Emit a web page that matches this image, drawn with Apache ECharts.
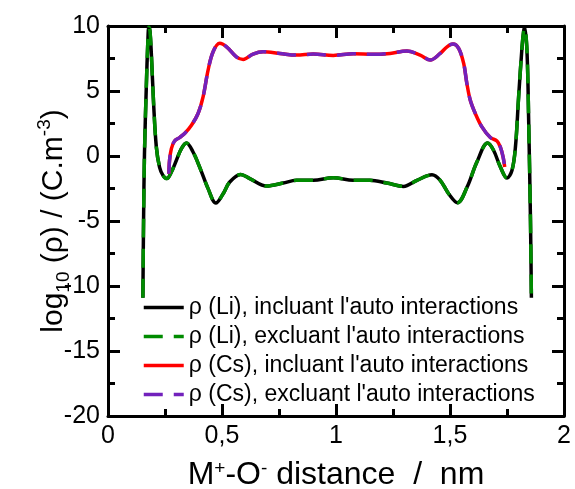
<!DOCTYPE html>
<html>
<head>
<meta charset="utf-8">
<script src="https://cdn.jsdelivr.net/npm/echarts@6/dist/echarts.min.js"></script>
<style>html,body{margin:0;padding:0;background:#fff;}#chart{width:575px;height:489px;}</style>
</head>
<body>
<div id="chart"></div>
<script>
// Distances (nm) and log10(rho) values
const liDist = [0.153, 0.156, 0.160, 0.168, 0.175, 0.179, 0.184, 0.190, 0.200, 0.212, 0.226, 0.241, 0.258, 0.278, 0.300, 0.322, 0.344, 0.373, 0.402, 0.439, 0.473, 0.505, 0.534, 0.582, 0.622, 0.695, 0.768, 0.827, 0.900, 0.988, 1.076, 1.149, 1.223, 1.296, 1.355, 1.421, 1.457, 1.494, 1.533, 1.575, 1.618, 1.665, 1.691, 1.721, 1.750, 1.772, 1.787, 1.801, 1.816, 1.823, 1.828, 1.838, 1.845, 1.853, 1.857];
const liLog  = [-10.9, -4.96, 0.19, 5.32, 8.92, 9.9, 9.6, 7.90, 4.04, 0.69, -0.85, -1.49, -1.74, -1.23, -0.33, 0.57, 1.00, 0.31, -0.85, -2.51, -3.62, -2.90, -2.00, -1.42, -1.74, -2.31, -2.08, -1.87, -1.87, -1.67, -1.87, -1.87, -2.08, -2.34, -1.87, -1.45, -1.87, -2.90, -3.60, -2.39, -0.46, 1.00, 0.44, -0.85, -1.70, -1.10, 0.69, 4.55, 8.40, 9.6, 9.9, 7.90, 2.75, -4.96, -10.9];
const csDist = [0.267, 0.270, 0.278, 0.292, 0.314, 0.336, 0.366, 0.395, 0.417, 0.439, 0.461, 0.490, 0.520, 0.563, 0.593, 0.636, 0.680, 0.754, 0.827, 0.900, 0.988, 1.076, 1.164, 1.237, 1.311, 1.369, 1.413, 1.457, 1.487, 1.513, 1.538, 1.560, 1.574, 1.589, 1.611, 1.640, 1.677, 1.706, 1.721, 1.733, 1.740];
const csLog  = [-1.36, -0.33, 0.57, 1.16, 1.42, 1.73, 2.37, 3.27, 4.55, 6.61, 8.02, 8.67, 8.40, 7.63, 7.43, 7.84, 8.02, 7.89, 7.76, 7.84, 7.74, 7.86, 7.82, 7.89, 8.07, 7.76, 7.38, 7.89, 8.40, 8.61, 8.28, 7.12, 5.58, 4.29, 3.27, 2.24, 1.42, 1.16, 0.69, -0.08, -0.85];

const seriesNames = [
  "ρ (Li), incluant l'auto interactions",
  "ρ (Li), excluant l'auto interactions",
  "ρ (Cs), incluant l'auto interactions",
  "ρ (Cs), excluant l'auto interactions"
];
const xTickLabels = ['0', '0,5', '1', '1,5', '2'];
const yTickLabels = ['-20', '-15', '-10', '-5', '0', '5', '10'];

const FONT = 'Liberation Sans, Arial, Helvetica, sans-serif';
const liData = liDist.map((d, i) => [d, liLog[i]]);
const csData = csDist.map((d, i) => [d, csLog[i]]);

const chart = echarts.init(document.getElementById('chart'), null, {renderer: 'canvas'});

const axisCommon = {
  axisLine: {show: true, onZero: false, lineStyle: {color: '#000', width: 3}},
  axisTick: {show: true, inside: true, length: 12, lineStyle: {color: '#000', width: 3}},
  minorTick: {show: true, splitNumber: 2, length: 7, lineStyle: {color: '#000', width: 3}},
  splitLine: {show: false},
  minorSplitLine: {show: false}
};

function mkSeries(name, data, color, dashed) {
  return {
    name: name, type: 'line', data: data, smooth: 0.35, symbol: 'none', showSymbol: false,
    lineStyle: {color: color, width: 3.5, type: dashed ? [19, 11] : 'solid', cap: 'butt'},
    itemStyle: {color: color},
    emphasis: {disabled: true}, animation: false
  };
}

chart.setOption({
  animation: false,
  backgroundColor: '#fff',
  grid: {left: 108, right: 11, top: 26, bottom: 73, containLabel: false, outerBoundsMode: 'none'},
  legend: {
    orient: 'vertical', left: 137, top: 291,
    itemWidth: 40, itemHeight: 14, itemGap: 6,
    data: seriesNames,
    itemStyle: {opacity: 0, borderWidth: 0},
    lineStyle: {width: 3.5, opacity: 1},
    textStyle: {fontFamily: FONT, fontSize: 23, color: '#000', padding: [0, 0, 0, 0]}
  },
  xAxis: [
    Object.assign({
      type: 'value', min: 0, max: 2, interval: 0.5, position: 'bottom',
      axisLabel: {show: true, margin: 8, fontFamily: FONT, fontSize: 25, color: '#000',
        formatter: v => xTickLabels[Math.round(v / 0.5)]},
      name: '{a|M}{s|+}{a|-O}{s|-}{a| distance  /  nm}',
      nameLocation: 'middle', nameGap: 43, nameMoveOverlap: false,
      nameTextStyle: {fontFamily: FONT, fontSize: 32, color: '#000',
        rich: {a: {fontFamily: FONT, fontSize: 32, color: '#000', verticalAlign: 'bottom'},
               s: {fontFamily: FONT, fontSize: 19, color: '#000', verticalAlign: 'top'}}}
    }, axisCommon),
    Object.assign({
      type: 'value', min: 0, max: 2, interval: 0.5, position: 'top',
      axisLabel: {show: false}
    }, axisCommon)
  ],
  yAxis: [
    Object.assign({
      type: 'value', min: -20, max: 10, interval: 5, position: 'left',
      axisLabel: {show: true, margin: 8, fontFamily: FONT, fontSize: 25, color: '#000',
        formatter: v => yTickLabels[Math.round((v + 20) / 5)]},
      name: '{a|log}{b|10}{a| (ρ) / (C.m}{s|-3}{a|)}',
      nameLocation: 'middle', nameGap: 35, nameMoveOverlap: false,
      nameTextStyle: {fontFamily: FONT, fontSize: 30, color: '#000',
        rich: {a: {fontFamily: FONT, fontSize: 30, lineHeight: 38, color: '#000', verticalAlign: 'middle'},
               b: {fontFamily: FONT, fontSize: 19, color: '#000', verticalAlign: 'bottom'},
               s: {fontFamily: FONT, fontSize: 19, color: '#000', verticalAlign: 'top'}}}
    }, axisCommon),
    Object.assign({
      type: 'value', min: -20, max: 10, interval: 5, position: 'right',
      axisLabel: {show: false}
    }, axisCommon)
  ],
  series: [
    mkSeries(seriesNames[0], liData, '#000000', false),
    mkSeries(seriesNames[1], liData, '#008b00', true),
    mkSeries(seriesNames[2], csData, '#ff0000', false),
    mkSeries(seriesNames[3], csData, '#7221bc', true)
  ]
});
</script>
</body>
</html>
